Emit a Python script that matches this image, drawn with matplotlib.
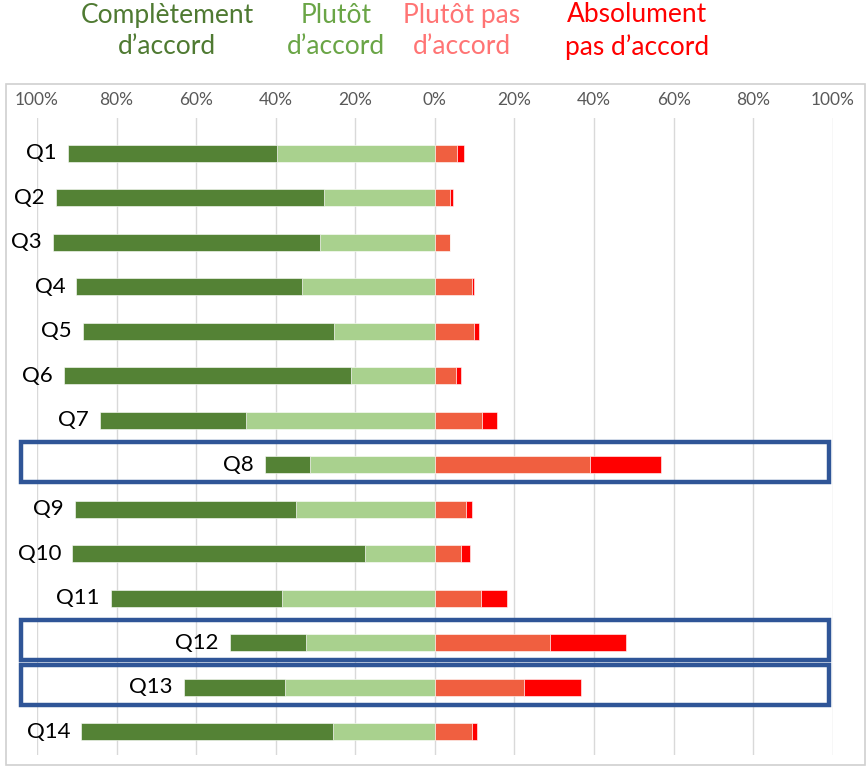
import numpy as np
import matplotlib
matplotlib.use('Agg')
import matplotlib.pyplot as plt
from matplotlib.patches import Rectangle

plt.rcParams['font.family'] = ['Lato', 'DejaVu Sans']

questions = ['Q1', 'Q2', 'Q3', 'Q4', 'Q5', 'Q6', 'Q7',
             'Q8', 'Q9', 'Q10', 'Q11', 'Q12', 'Q13', 'Q14']
# percentages per answer
tout_a_fait = [52.6, 67.5, 67.0, 56.7, 63.1, 72.1, 36.6, 11.3, 55.5, 73.6, 43.1, 19.2, 25.5, 63.4]
plutot = [39.7, 27.8, 29.0, 33.4, 25.4, 21.1, 47.5, 31.5, 34.9, 17.5, 38.4, 32.3, 37.6, 25.5]
plutot_pas = [5.5, 3.8, 3.7, 9.2, 9.7, 5.2, 11.9, 38.9, 7.9, 6.5, 11.7, 29.0, 22.3, 9.3]
pas_du_tout = [1.8, 0.8, 0.0, 0.5, 1.5, 1.3, 3.7, 17.8, 1.4, 2.2, 6.5, 19.0, 14.3, 1.3]
highlighted = ['Q8', 'Q12', 'Q13']

legend_labels = ['Complètement\nd\u2019accord', 'Plutôt\nd\u2019accord',
                 'Plutôt pas\nd\u2019accord', 'Absolument\npas d\u2019accord']

c_dark = '#548235'
c_light = '#A9D18E'
c_orange = '#F05F40'
c_red = '#FF0000'

fig = plt.figure(figsize=(8.66, 7.71), dpi=100)
ax = fig.add_axes([0.0427, 0.0208, 0.919, 0.826])

# panel border
fig.patches.append(Rectangle((6 / 866, 6 / 771), 0.999 - 6 / 866, 1 - 84 / 771 - 6 / 771,
                             transform=fig.transFigure, fill=False,
                             edgecolor='#D0D0D0', linewidth=1.2))

y = np.arange(len(questions))
dark = np.array(tout_a_fait)
light = np.array(plutot)
orng = np.array(plutot_pas)
red = np.array(pas_du_tout)

h = 0.39
ec = dict(edgecolor='white', linewidth=0.4)
ax.barh(y, -light, height=h, color=c_light, **ec, zorder=3)
ax.barh(y, -dark, left=-light, height=h, color=c_dark, **ec, zorder=3)
ax.barh(y, orng, height=h, color=c_orange, **ec, zorder=3)
ax.barh(y, red, left=orng, height=h, color=c_red, **ec, zorder=3)

for i, q in enumerate(questions):
    ax.annotate(q, (-(dark[i] + light[i]), i), xytext=(-8, 0),
                textcoords='offset points', ha='right', va='center',
                fontsize=16, color='black')
    if q in highlighted:
        ax.add_patch(Rectangle((-104, i - 0.51), 203, 0.9, fill=False,
                               edgecolor='#2F5597', linewidth=3.2,
                               clip_on=False, zorder=5))

ax.set_xlim(-100, 100)
ax.set_ylim(13.52, -0.79)
ticks = np.arange(-100, 101, 20)
ax.set_xticks(ticks)
ax.set_xticklabels(['{0}%'.format(abs(t)) for t in ticks], fontsize=12.5, color='#595959')
ax.xaxis.tick_top()
ax.tick_params(axis='x', length=0, pad=7)
ax.set_yticks([])
ax.grid(axis='x', color='#D9D9D9', linewidth=1, zorder=0)
for s in ax.spines.values():
    s.set_visible(False)

legend_x = [167, 336, 462, 637]
legend_colors = ['#4F7A32', '#6AA546', '#FF7474', '#FF0000']
for lx, lab, col in zip(legend_x, legend_labels, legend_colors):
    fig.text(lx / 866, 1 - 31 / 771, lab, ha='center', va='center',
             fontsize=19, color=col, linespacing=1.3)

fig.savefig('out.png', dpi=100)
